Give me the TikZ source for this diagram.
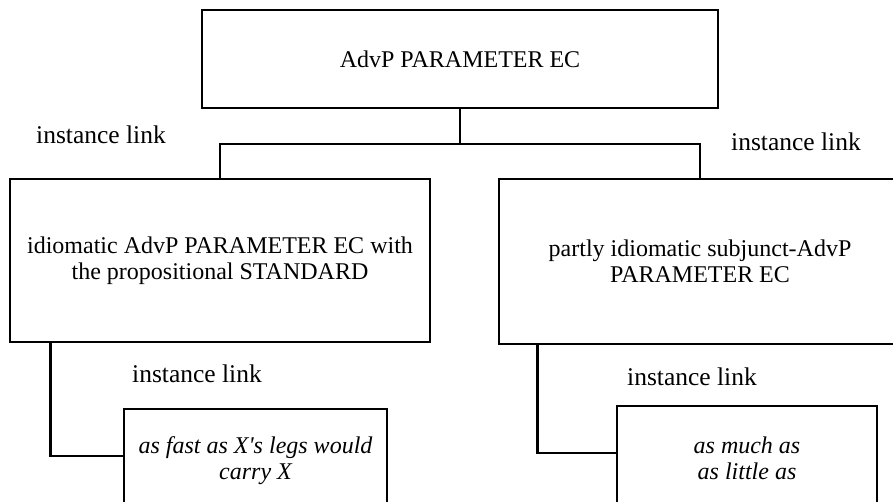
\documentclass[tikz,border=0pt]{standalone}
\usepackage{fontspec}
\setmainfont{Liberation Serif}
\usetikzlibrary{calc}

\begin{document}
\begin{tikzpicture}[x=1pt, y=-1pt,
	box/.style = {draw, line width=2.8pt, rectangle, align=center,
		inner sep=0pt, font=\fontsize{24}{26}\selectfont},
	lbl/.style = {anchor=base, inner sep=0pt, font=\fontsize{25.5}{26}\selectfont},
	link/.style = {line width=2.8pt}]
\useasboundingbox (0, 0) rectangle (893, 501);
\clip (0, 0) rectangle (893, 501);

\node[box, minimum width=516pt, minimum height=98pt] (top) at (460, 59)
	{AdvP PARAMETER EC};
\node[box, minimum width=420pt, minimum height=163pt] (left) at (220, 260.5)
	{idiomatic AdvP PARAMETER EC with\\ the propositional STANDARD};
\node[box, minimum width=402pt, minimum height=165pt] (right) at (700, 261.5)
	{partly idiomatic subjunct-AdvP\\ PARAMETER EC};
\node[box, minimum width=263pt, minimum height=104pt] (ex1) at (255.5, 461)
	{\itshape as fast as X\textquotesingle s legs would\\ \itshape carry X};
\node[box, minimum width=260pt, minimum height=104pt] (ex2) at (747, 458)
	{\itshape as much as\\ \itshape as little as};

\coordinate (split) at (460, 144);

\draw[link] (top) -- (split);
\draw[link] (left.north) |- (split) -| (right.north);
\draw[link] ([xshift=42pt]left.south west) |- ([yshift=5pt]ex1.west);
\draw[link] ([xshift=40pt]right.south west) |- ([yshift=5pt]ex2.west);

\node[lbl] (il1) at (101, 143) {instance link};
\node[lbl] (il2) at (796, 150) {instance link};
\node[lbl] (il3) at (197, 382) {instance link};
\node[lbl] (il4) at (692, 385) {instance link};

\end{tikzpicture}
\end{document}
